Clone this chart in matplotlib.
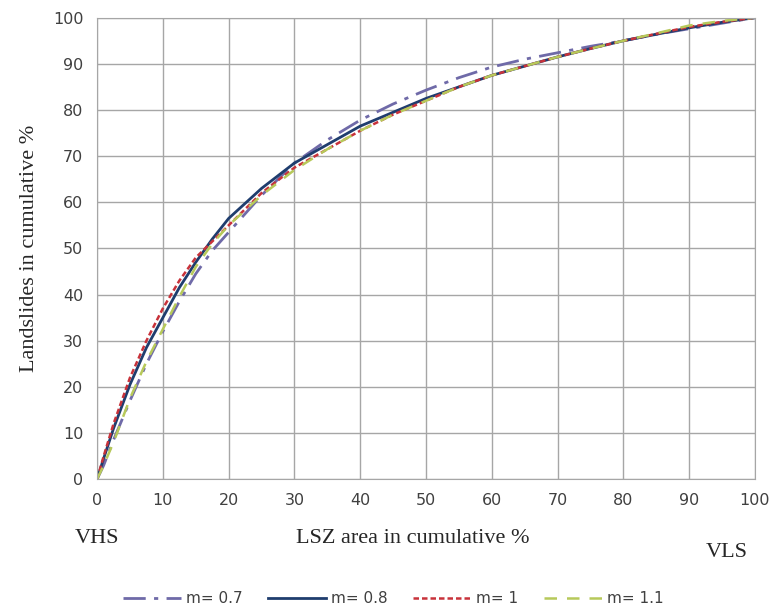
import matplotlib
matplotlib.use("Agg")
import matplotlib.pyplot as plt

# cumulative LSZ area (%)
area = [0, 1, 2.5, 5, 7.5, 10, 12.5, 15, 17.5, 20, 25, 30, 35, 40, 45, 50,
        55, 60, 65, 70, 75, 80, 85, 90, 95, 100]

# landslides in cumulative % for each m value
m07 = [0, 3, 8.5, 17, 25, 32, 38.5, 44.5, 49.5, 53.5, 61.5, 68.5, 73.5, 77.8, 81.3, 84.3,
       87, 89.3, 91, 92.4, 93.8, 95, 96.4, 97.6, 98.8, 100]
m08 = [0, 4.5, 11, 20.5, 28.5, 35, 41.5, 47, 52, 56.5, 63, 68.5, 72.5, 76.5, 79.5, 82.5,
       85, 87.5, 89.5, 91.5, 93.3, 95, 96.4, 97.8, 99, 100]
m1 = [0, 5, 12, 22, 30, 37, 43, 48, 51.5, 55, 62, 67.5, 71.5, 75.5, 79, 82,
      85, 87.5, 89.5, 91.5, 93.3, 95, 96.5, 98, 99.1, 100]
m11 = [0, 3, 8, 17.5, 25.5, 32.5, 39.5, 46, 51, 55, 61.5, 67, 71.5, 75.5, 79, 82,
       85, 87.5, 89.5, 91.5, 93.3, 95, 96.6, 98.3, 99.3, 100]

labels = ["m= 0.7", "m= 0.8", "m= 1", "m= 1.1"]
tick_vals = list(range(0, 101, 10))

fig = plt.figure(figsize=(7.71, 6.11), dpi=100)
ax = fig.add_axes([0.126, 0.216, 0.853, 0.755])

ax.plot(area, m07, color="#6f6aa8", lw=2, linestyle=(0, (8, 3, 1.5, 3)), label=labels[0])
ax.plot(area, m08, color="#1f3d6e", lw=2, linestyle="-", label=labels[1])
ax.plot(area, m1, color="#c8323a", lw=1.8, linestyle=(0, (2.2, 1.2)), label=labels[2])
ax.plot(area, m11, color="#b7c95a", lw=1.8, linestyle=(0, (5, 4)), label=labels[3])

ax.set_xlim(0, 100)
ax.set_ylim(0, 100)
ax.set_xticks(tick_vals)
ax.set_yticks(tick_vals)
ax.grid(True, color="#a6a6a6", lw=1)
ax.set_axisbelow(True)
for s in ax.spines.values():
    s.set_color("#a6a6a6")
ax.tick_params(length=0, labelsize=11.5, labelcolor="#404040", pad=10)

serif = {"family": "Liberation Serif", "size": 16, "color": "#262626"}
ax.set_ylabel("Landslides in cumulative %", fontdict=serif, labelpad=10)
fig.text(0.126, 0.112, "VHS", ha="center", **serif)
fig.text(0.535, 0.112, "LSZ area in cumulative %", ha="center", **serif)
fig.text(0.943, 0.088, "VLS", ha="center", **serif)

fig.legend(loc="lower center", bbox_to_anchor=(0.51, -0.015), ncol=4, frameon=False,
           fontsize=11, handlelength=3.8, columnspacing=1.7, handletextpad=0.3,
           labelcolor="#404040")

fig.savefig("out.png", dpi=100, facecolor="white")
